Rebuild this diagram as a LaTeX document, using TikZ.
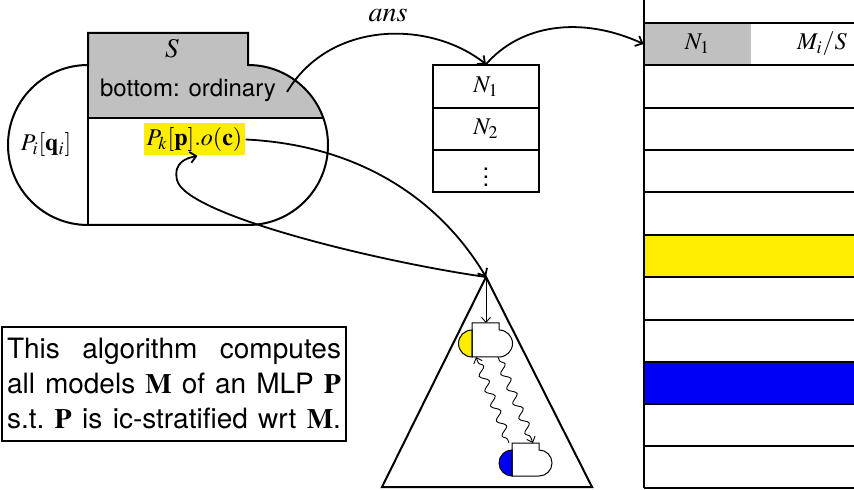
\documentclass[tikz,border=0pt]{standalone}
\usepackage{mathptmx}
\usepackage[no-math]{fontspec}
\setmainfont{TeX Gyre Heros}
\usetikzlibrary{arrows.meta,decorations.pathmorphing}
\definecolor{cgray}{RGB}{192,192,192}
\definecolor{cyel}{RGB}{255,237,0}
\definecolor{cblue}{RGB}{0,0,245}
\newcommand{\fullline}[1]{\leavevmode\hbox to 167pt{\spaceskip=0.28em plus 1fil\relax\xspaceskip=\spaceskip #1}}
\begin{document}
\begin{tikzpicture}[x=0.5pt,y=-0.5pt,
  every node/.style={font=\fontsize{12}{17.5}\selectfont},
  heavy/.style={line width=1pt},
  conn/.style={line width=0.9pt,-{Straight Barb[length=3pt,width=5.5pt]}},
  thinconn/.style={line width=0.45pt,-{Straight Barb[length=2.5pt,width=4.5pt]}},
  wave/.style={line width=0.45pt,decorate,decoration={snake,amplitude=2pt,segment length=8pt,pre length=2pt,post length=3pt},-{Straight Barb[length=2.5pt,width=4.5pt]}},
  cell/.style={draw,heavy,minimum width=53pt,minimum height=21.2pt,inner sep=0pt},
  rowcell/.style={fill=cgray,minimum width=53.5pt,minimum height=21pt,inner sep=0pt},
  smallline/.style={line width=0.5pt}]
\useasboundingbox (0,0) rectangle (854,490);

% ---- left capsule ----
\fill[cgray] (88,33) -- (248,33) -- (248,65) arc[start angle=90,end angle=19.7,radius=40pt] -- (88,118) -- cycle;
\draw[heavy] (88,225) arc[start angle=270,end angle=90,radius=40pt] -- (88,33) -- (248,33) -- (248,65) arc[start angle=90,end angle=-90,radius=40pt] -- cycle;
\draw[heavy] (88,33) -- (88,225);
\draw[heavy] (88,118) -- (323.3,118);
\node[font=\fontsize{13.5}{16}\selectfont] (S) at (172,49) {$S$};
\node (bot) at (188,90) {bottom: ordinary};
\node (Pi) at (46,145) {$P_i[\mathbf{q}_i]$};
\node[fill=cyel,inner xsep=1.5pt,inner ysep=2pt,minimum height=15.5pt] (hl) at (194.5,139.5) {$P_k[\mathbf{p}].o(\mathbf{c})$};
\coordinate (a0) at (287,92);

% ---- stack ----
\node[cell] (n1) at (486,86.5) {$N_1$};
\node[cell] (n2) at (486,129) {$N_2$};
\node[cell] (n3) at (486,171) {$\vdots$};
\node[font=\fontsize{14}{16}\selectfont] (ans) at (388,15) {$ans$};

% ---- right table ----
\node[rowcell] (t1) at (697.5,44) {$N_1$};
\node (mis) at (822,44) {$M_i/S$};
\fill[cyel] (644,235) rectangle (854,277);
\fill[cblue] (644,362) rectangle (854,404);
\draw[heavy] (644,0) -- (644,488);
\foreach \yy in {23,65,108,150,192,235,277,320,362,404,446,488}
  \draw[heavy] (644,\yy) -- (854,\yy);

% ---- triangle ----
\coordinate (apex) at (486,277);
\coordinate (bl) at (382,487);
\coordinate (br) at (592,487);
\draw[heavy] (apex) -- (bl) -- (br) -- cycle;

% ---- small capsules ----
\begin{scope}[shift={(472,323)}]
  \filldraw[smallline,fill=cyel] (0,7) arc[start angle=90,end angle=270,radius=6.75pt] -- cycle;
  \draw[smallline] (0,0) -- (27,0) -- (27,7) arc[start angle=90,end angle=-90,radius=6.75pt] -- (0,34) -- cycle;
  \coordinate (c1t) at (14,0);
  \coordinate (c1a) at (4,34);
  \coordinate (c1b) at (26,34);
\end{scope}
\begin{scope}[shift={(512,443)}]
  \filldraw[smallline,fill=cblue] (0,7) arc[start angle=90,end angle=270,radius=6.5pt] -- cycle;
  \draw[smallline] (0,0) -- (27,0) -- (27,7) arc[start angle=90,end angle=-90,radius=6.5pt] -- (0,33) -- cycle;
  \coordinate (c2a) at (-3,0);
  \coordinate (c2b) at (21,0);
\end{scope}
\draw[thinconn] (apex) -- (c1t);
\draw[wave] (c1b) -- (c2b);
\draw[wave] (c2a) -- (c1a);

% ---- connectors ----
\draw[conn] (a0) .. controls (330,20) and (430,20) .. (n1.north);
\draw[conn] (n1.north) .. controls (520,25) and (580,15) .. (t1.west);
\draw[conn] (hl.east) .. controls (360,145) and (440,200) .. (apex);
\draw[conn] (apex) .. controls (380,262) and (185,215) .. (177,180) .. controls (173,162) and (187,158) .. ([xshift=1.5pt]hl.south);

% ---- text box ----
\node[draw,heavy,font=\fontsize{14}{17.5}\selectfont,text width=167pt,align=left,inner xsep=2.5pt,inner ysep=0pt,minimum height=57pt,anchor=north west] (txt) at (1,326)
  {\fullline{This algorithm computes}\\\fullline{all models $\mathbf{M}$ of an MLP $\mathbf{P}$}\\\fullline{s.t. $\mathbf{P}$ is ic-stratified wrt $\mathbf{M}$.}};
\end{tikzpicture}
\end{document}
